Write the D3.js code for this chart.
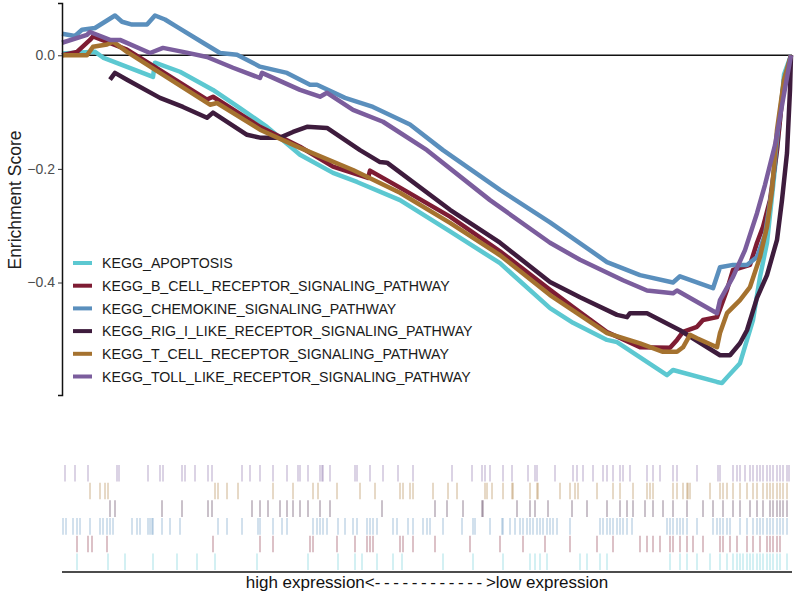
<!DOCTYPE html>
<html>
<head>
<meta charset="utf-8">
<script src="https://cdn.jsdelivr.net/npm/d3@7"></script>
<style>
  body { margin: 0; background: #fff; }
  svg { display: block; }
</style>
</head>
<body>
<svg id="chart" width="800" height="599"></svg>
<script>
// gene sets, in legend order
const setNames = [
  "KEGG_APOPTOSIS",
  "KEGG_B_CELL_RECEPTOR_SIGNALING_PATHWAY",
  "KEGG_CHEMOKINE_SIGNALING_PATHWAY",
  "KEGG_RIG_I_LIKE_RECEPTOR_SIGNALING_PATHWAY",
  "KEGG_T_CELL_RECEPTOR_SIGNALING_PATHWAY",
  "KEGG_TOLL_LIKE_RECEPTOR_SIGNALING_PATHWAY"
];
const setColors = ["#5cc8d1", "#7e1c33", "#5a8fbd", "#3e1c3d", "#a5722f", "#7b5d9d"];

const yTicks = [-0.4, -0.2, 0.0];
const nGenes = 18225;

// running enrichment score: [rank, ES]
const apoptosisES = [[0,0.003],[825,0.006],[1025,-0.004],[2275,-0.038],[2325,-0.013],[2950,-0.029],[3775,-0.061],[4450,-0.093],[5125,-0.126],[5950,-0.175],[6775,-0.207],[7375,-0.223],[8450,-0.255],[9700,-0.310],[10950,-0.366],[12200,-0.445],[12775,-0.471],[13625,-0.501],[13875,-0.505],[15125,-0.563],[15275,-0.554],[16375,-0.575],[16500,-0.577],[16625,-0.567],[16950,-0.542],[17125,-0.501],[17275,-0.466],[17450,-0.390],[17625,-0.330],[17775,-0.232],[17950,-0.114],[18050,-0.034],[18225,0]];
const bCellES = [[0,0],[375,0.006],[700,0.027],[775,0.033],[1625,0.010],[2450,-0.026],[3625,-0.078],[3775,-0.073],[4950,-0.126],[5950,-0.161],[6775,-0.196],[7650,-0.216],[7700,-0.203],[8450,-0.233],[9700,-0.284],[10950,-0.345],[12200,-0.413],[12775,-0.443],[13625,-0.487],[14450,-0.514],[15200,-0.515],[15375,-0.501],[15525,-0.487],[15875,-0.478],[16025,-0.466],[16375,-0.461],[16625,-0.413],[16775,-0.378],[17200,-0.369],[17375,-0.330],[17525,-0.302],[17700,-0.255],[17875,-0.167],[18025,-0.061],[18225,0]];
const chemokineES = [[0,0.038],[325,0.034],[500,0.045],[825,0.048],[1075,0.059],[1325,0.070],[1500,0.059],[1750,0.054],[2125,0.054],[2325,0.070],[2575,0.063],[2875,0.050],[3525,0.022],[3950,0.004],[4375,0.001],[4950,-0.020],[5625,-0.031],[6200,-0.052],[6375,-0.052],[7075,-0.075],[7775,-0.091],[8700,-0.122],[9525,-0.167],[10950,-0.237],[12200,-0.294],[13625,-0.364],[14450,-0.387],[15275,-0.400],[15450,-0.389],[16275,-0.410],[16450,-0.373],[16775,-0.369],[17125,-0.369],[17375,-0.355],[17575,-0.316],[17750,-0.237],[17900,-0.131],[18050,-0.043],[18225,0]];
const rigES = [[1200,-0.043],[1325,-0.031],[1625,-0.043],[2450,-0.075],[3025,-0.091],[3625,-0.110],[3775,-0.101],[4625,-0.140],[4950,-0.145],[5450,-0.145],[5775,-0.135],[6125,-0.126],[6625,-0.128],[7450,-0.167],[7950,-0.188],[8125,-0.189],[9700,-0.272],[10950,-0.330],[12200,-0.399],[12950,-0.426],[13875,-0.457],[14125,-0.461],[14200,-0.454],[14625,-0.454],[15450,-0.484],[16450,-0.528],[16700,-0.528],[16950,-0.507],[17125,-0.484],[17375,-0.427],[17625,-0.387],[17875,-0.325],[18000,-0.255],[18125,-0.172],[18200,-0.061],[18225,0]];
const tCellES = [[0,0],[625,0],[775,0.015],[1125,0.019],[1275,0.024],[1625,0.006],[2450,-0.031],[3700,-0.087],[3875,-0.084],[4950,-0.131],[5950,-0.163],[7275,-0.202],[8450,-0.242],[9700,-0.295],[10950,-0.352],[12200,-0.422],[13625,-0.489],[14450,-0.507],[15025,-0.522],[15375,-0.522],[15525,-0.514],[15700,-0.492],[15875,-0.498],[16375,-0.514],[16450,-0.489],[16625,-0.454],[16950,-0.431],[17200,-0.408],[17450,-0.355],[17625,-0.302],[17750,-0.237],[17875,-0.131],[18050,-0.043],[18225,0]];
const tollES = [[0,0.022],[625,0.036],[700,0.041],[1200,0.027],[1450,0.027],[2200,0.004],[2525,0.013],[3025,0.006],[3625,-0.003],[4275,-0.022],[4950,-0.040],[5000,-0.031],[5950,-0.061],[6450,-0.073],[6625,-0.066],[7275,-0.096],[8025,-0.117],[9125,-0.167],[10700,-0.255],[12200,-0.330],[12950,-0.360],[14025,-0.396],[14625,-0.414],[15275,-0.419],[15375,-0.414],[16375,-0.454],[16450,-0.431],[16775,-0.390],[17075,-0.343],[17375,-0.278],[17575,-0.228],[17825,-0.158],[18025,-0.078],[18225,0]];

// gene hit ranks for the rug
const apoptosisHits = [375,1150,1575,2275,2875,3375,3825,4875,6150,6900,7325,7500,7875,8275,8500,9525,10275,11025,11700,11825,11950,12125,12950,13125,13450,13625,15200,15450,15625,15875,16200,16450,16625,16775,16875,16950,17025,17125,17200,17275,17375,17450,17525,17625,17700,17775,17875,17950,18125];
const bCellHits = [375,650,750,1125,3775,4950,5275,6200,6275,6875,7325,7625,7700,7775,8450,8525,8775,9325,10200,10950,11525,12075,12700,13375,13775,14450,14625,14775,14950,15200,15275,15450,15625,15775,16025,16450,16525,16700,16875,17125,17275,17450,17625,17700,17775,17875,17950];
const chemokineHits = [25,100,275,375,450,700,950,1025,1125,1200,1275,1750,1875,1950,2150,2200,2250,2275,2500,2700,2950,3900,4125,4500,4900,4950,5275,5500,5625,6275,6375,6450,6525,6625,6900,7075,7275,7375,7625,7700,7775,7875,8275,8375,8650,8775,9025,9125,9200,9525,10000,10275,10325,10700,11000,11025,11200,11325,11450,11525,11625,11700,11775,11875,11950,12025,12125,12200,12275,12375,12700,13450,13525,13625,13700,13775,13875,13950,14025,14125,14250,15125,15200,15275,15375,15450,15525,15625,15875,16275,16375,16450,16525,16625,16700,16950,17125,17275,17375,17450,17525,17625,17700,17775,17875,17950,18025,18125];
const rigHits = [1200,1325,2500,3000,3650,3750,4750,4950,5150,5450,5625,5775,5950,6150,6450,6700,8000,9325,9625,10025,10500,10525,11375,11700,11825,12150,12750,13125,13625,13950,14125,14275,14575,14775,15025,15275,15625,16025,16275,16525,16775,16950,17200,17375,17525,17700,17775,17875,17950,18025,18125];
const tCellHits = [700,950,1075,1150,3825,3900,4125,4400,5275,5775,6275,6400,6875,7450,7825,8450,8525,8700,8775,9275,9650,9875,10575,10625,10750,11025,11250,11275,11700,11875,11900,12450,12700,12825,12900,13375,13775,13950,14275,14625,14700,14775,15275,15375,15525,15625,15650,15700,16200,16450,16525,16625,16775,16950,17125,17275,17375,17525,17625,17700,17775,17875,17950,18025,18125];
const tollHits = [75,325,650,1375,1425,2150,2450,2525,3000,3075,3325,3650,3750,4500,4700,4950,5275,5625,5900,5950,6150,6450,6500,6525,6700,7325,7375,7700,8025,8400,8775,9750,10250,10500,10575,10700,11025,11250,11650,11825,11875,12325,12775,12875,13025,13275,13525,13625,13775,13950,14025,14200,14625,14775,14950,15275,15375,15875,16400,16450,16775,16875,16950,17075,17200,17275,17375,17450,17525,17625,17700,17775,17875,17950,18025,18125,18175];

const esSeries = [apoptosisES, bCellES, chemokineES, rigES, tCellES, tollES];
const hitSeries = [apoptosisHits, bCellHits, chemokineHits, rigHits, tCellHits, tollHits];

function drawGSEA(svgId) {
  let svg = d3.select(svgId);
  let font = "'Liberation Sans', Arial, Helvetica, sans-serif";

  let x = d3.scaleLinear()
    .domain([0, nGenes])
    .range([62, 791]);
  let y = d3.scaleLinear()
    .domain([-0.598, 0.092])
    .range([395, 3]);

  // zero line
  svg.append("line")
    .attr("x1", x(0))
    .attr("x2", x(nGenes) + 1)
    .attr("y1", y(0))
    .attr("y2", y(0))
    .style("stroke", "#111")
    .style("stroke-width", 1.4);

  // running ES curves
  let line = d3.line()
    .x(d => x(d[0]))
    .y(d => y(d[1]));

  svg.selectAll(".es")
    .data(esSeries)
    .enter()
    .append("path")
    .attr("class", "es")
    .attr("d", line)
    .style("fill", "none")
    .style("stroke", (d, i) => setColors[i])
    .style("stroke-width", 4.5)
    .style("stroke-linejoin", "round");

  // y-axis
  svg.append("g")
    .attr("transform", "translate(" + x(0) + ",0)")
    .style("font-family", font)
    .style("font-size", 14)
    .call(d3.axisLeft(y).tickValues(yTicks).tickFormat(d3.format(".1f")).tickSizeOuter(0).tickSize(4).tickPadding(3))
    .call(g => g.select(".domain").style("stroke", "#111").style("stroke-width", 1.5))
    .call(g => g.selectAll(".tick line").style("stroke", "#333"))
    .call(g => g.selectAll(".tick text").style("fill", "#4d4d4d"));

  svg.append("text")
    .attr("x", -200)
    .attr("y", 21)
    .attr("text-anchor", "middle")
    .attr("transform", "rotate(-90)")
    .text("Enrichment Score")
    .style("font-family", font)
    .style("font-size", 17.5)
    .style("fill", "#222");

  // legend
  let legend = svg.selectAll(".legend")
    .data(setNames)
    .enter()
    .append("g")
    .attr("class", "legend")
    .attr("transform", (d, i) => "translate(73," + (263 + i * 22.7) + ")");
  legend.append("line")
    .attr("x1", 0)
    .attr("x2", 19)
    .style("stroke", (d, i) => setColors[i])
    .style("stroke-width", 4);
  legend.append("text")
    .attr("x", 29)
    .attr("dy", "0.36em")
    .text(d => d)
    .style("font-family", font)
    .style("font-size", 14.2)
    .style("fill", "#1a1a1a");

  // rug of gene hits, last set on top
  let row = d3.scaleBand()
    .domain(d3.range(setNames.length).reverse())
    .range([465, 570])
    .paddingInner(0.06);

  hitSeries.forEach(function(hits, i) {
    svg.selectAll(".hit" + i)
      .data(hits)
      .enter()
      .append("line")
      .attr("class", "hit" + i)
      .attr("x1", d => x(d))
      .attr("x2", d => x(d))
      .attr("y1", row(i))
      .attr("y2", row(i) + row.bandwidth())
      .style("stroke", setColors[i])
      .style("stroke-opacity", 0.42)
      .style("stroke-width", 1.3);
  });

  svg.append("line")
    .attr("x1", x(0))
    .attr("x2", x(nGenes) + 1)
    .attr("y1", 572)
    .attr("y2", 572)
    .style("stroke", "#111")
    .style("stroke-width", 1.5);

  // axis caption, dashes spaced out like the original
  let caption = svg.append("text")
    .attr("x", 427)
    .attr("y", 588)
    .attr("text-anchor", "middle")
    .style("font-family", font)
    .style("font-size", 17)
    .style("fill", "#111");
  caption.append("tspan").text("high expression<");
  caption.append("tspan").text("------------").style("letter-spacing", "3.6px");
  caption.append("tspan").text(">low expression");
}

drawGSEA("#chart");
</script>
</body>
</html>
